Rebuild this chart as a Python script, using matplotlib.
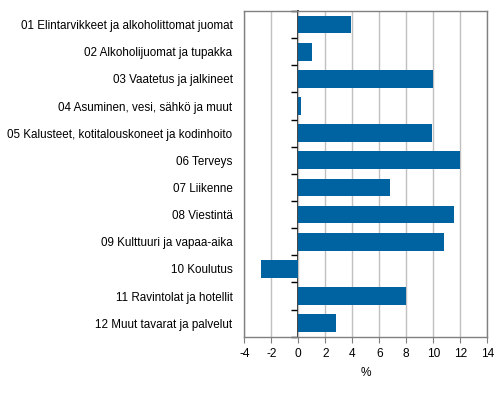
import matplotlib.pyplot as plt
import numpy as np

plt.rcParams['font.family'] = ['Liberation Sans', 'DejaVu Sans']

categories = [
    '01 Elintarvikkeet ja alkoholittomat juomat',
    '02 Alkoholijuomat ja tupakka',
    '03 Vaatetus ja jalkineet',
    '04 Asuminen, vesi, sähkö ja muut',
    '05 Kalusteet, kotitalouskoneet ja kodinhoito',
    '06 Terveys',
    '07 Liikenne',
    '08 Viestintä',
    '09 Kulttuuri ja vapaa-aika',
    '10 Koulutus',
    '11 Ravintolat ja hotellit',
    '12 Muut tavarat ja palvelut',
]
values = [3.9, 1.0, 10.0, 0.2, 9.9, 12.0, 6.8, 11.5, 10.8, -2.8, 8.0, 2.8]
xticks = [-4, -2, 0, 2, 4, 6, 8, 10, 12, 14]

fig = plt.figure(figsize=(5.03, 3.96), dpi=100)
ax = fig.add_axes([0.4857, 0.1497, 0.4831, 0.8225])

y = np.arange(len(categories))
ax.barh(y, values, height=0.65, color='#0063a1', zorder=3)

ax.set_xlim(-4, 14)
ax.set_ylim(len(categories) - 0.5, -0.5)
ax.set_xticks(xticks)
ax.set_xticklabels([str(t) for t in xticks], fontsize=8.6)
ax.set_yticks(y)
ax.set_yticklabels(categories, fontsize=8.35)
ax.tick_params(axis='y', length=0, pad=8.5)
ax.tick_params(axis='x', length=4, color='#808080', pad=4)
ax.xaxis.grid(True, color='#c0c0c0', linewidth=1, zorder=0)
ax.set_axisbelow(True)
for s in ax.spines.values():
    s.set_color('#808080')
    s.set_linewidth(1)
ax.set_xlabel('%', fontsize=8.6, labelpad=5)

# zero line with category separator ticks
zero = (0 - xticks[0]) / (xticks[-1] - xticks[0])
sec = ax.secondary_yaxis(zero)
sec.set_yticks(np.arange(len(categories) + 1) - 0.5)
sec.set_yticklabels([])
sec.tick_params(length=5, width=1, color='black', direction='out')
sec.spines['left'].set_color('black')
sec.spines['left'].set_linewidth(1.2)

fig.savefig('out.png', dpi=100)
